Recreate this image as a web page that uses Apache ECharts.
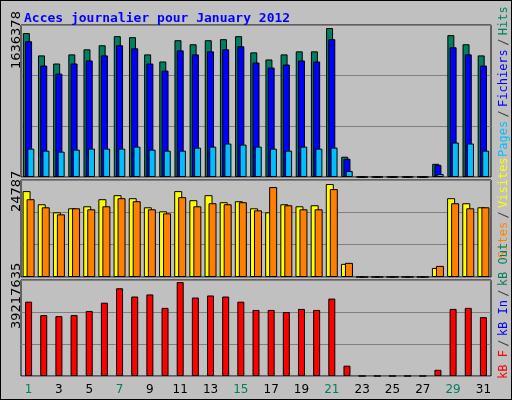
<!DOCTYPE html>
<html>
<head>
<meta charset="utf-8">
<script src="https://cdn.jsdelivr.net/npm/echarts@6/dist/echarts.min.js"></script>
<style>
  html, body { margin: 0; padding: 0; background: #fff; }
  #chart { width: 510px; height: 398px; border: 1px solid #000; background: #c0c0c0; }
</style>
</head>
<body>
<div id="chart"></div>
<script>
// days of January 2012, weekend days drawn in green
const days = Array.from({ length: 31 }, (_, i) => String(i + 1));
const weekendDays = ["1", "7", "8", "14", "15", "21", "22", "28", "29"];

// top panel (relative heights, max label 1636378)
const hits = [142, 120, 112, 121, 126, 130, 139, 138, 121, 114, 135, 131, 135, 136, 139, 123,
  116, 121, 124, 124, 147, 20, 0, 0, 0, 0, 0, 13, 140, 131, 120];
const files = [134, 110, 102, 112, 115, 120, 130, 127, 112, 105, 125, 121, 124, 126, 129, 113,
  108, 111, 115, 114, 136, 18, 0, 0, 0, 0, 0, 12, 128, 121, 110];
const pages = [28, 26, 25, 27, 28, 28, 28, 30, 27, 26, 26, 29, 30, 33, 32, 30,
  28, 26, 30, 28, 29, 6, 0, 0, 0, 0, 0, 3, 34, 33, 26];

// middle panel (max label 24787)
const visits = [85, 72, 64, 68, 70, 77, 81, 78, 69, 65, 85, 76, 81, 74, 75, 68,
  64, 72, 70, 71, 92, 13, 0, 0, 0, 0, 0, 9, 78, 73, 69];
const sites = [77, 69, 62, 68, 67, 70, 78, 75, 67, 63, 79, 70, 73, 72, 74, 66,
  89, 71, 67, 67, 87, 14, 0, 0, 0, 0, 0, 11, 73, 68, 69];

// bottom panel (max label 39217635)
const bandwidth = [72, 59, 58, 59, 63, 71, 85, 77, 79, 66, 91, 76, 78, 77, 72, 64,
  64, 62, 65, 64, 75, 10, 0, 0, 0, 0, 0, 6, 65, 66, 57];

const grids = [
  { left: 20, top: 24, width: 470, height: 152 },
  { left: 20, top: 179, width: 470, height: 97 },
  { left: 20, top: 279, width: 470, height: 96 }
];

const chart = echarts.init(document.getElementById("chart"));

function xAxis(gridIndex, showLabels) {
  return {
    type: "category", gridIndex, data: days,
    axisLine: { show: false }, axisTick: { show: false },
    axisLabel: showLabels ? {
      margin: 8, fontSize: 12, fontFamily: "DejaVu Sans",
      color: (v) => weekendDays.includes(v) ? "#008060" : "#000"
    } : { show: false }
  };
}

function yAxis(gridIndex, max, interval) {
  return {
    type: "value", gridIndex, min: 0, max, interval,
    axisLabel: { show: false }, axisLine: { show: false }, axisTick: { show: false },
    splitLine: { lineStyle: { color: "#808080", width: 1 } }
  };
}

function bars(name, data, color, axis, width, gap) {
  return {
    name, type: "bar", data, xAxisIndex: axis, yAxisIndex: axis,
    barWidth: width, barGap: gap, silent: true, animation: false,
    itemStyle: { color, borderColor: "#000", borderWidth: 1 }
  };
}

function vtext(x, y, rich, parts, font) {
  return {
    type: "text", x, y, rotation: Math.PI / 2,
    style: {
      text: parts, rich, align: "left", verticalAlign: "middle",
      font: font
    }
  };
}

const mono = "12px 'DejaVu Sans Mono'";
const rich = {
  pg: { fill: "#00bfff", font: mono }, fi: { fill: "#0000ff", font: mono },
  hi: { fill: "#008060", font: mono }, sl: { fill: "#404040", font: mono },
  si: { fill: "#ff8000", font: mono }, vi: { fill: "#ffff00", font: mono },
  kf: { fill: "#ff0000", font: mono }, ki: { fill: "#0000ff", font: mono },
  ko: { fill: "#008060", font: mono }
};

chart.setOption({
  backgroundColor: "#c0c0c0",
  title: {
    text: "Acces journalier pour January 2012", left: 18, top: 6,
    textStyle: { color: "#0000ff", fontFamily: "DejaVu Sans Mono", fontWeight: "bold", fontSize: 13 }
  },
  grid: grids.map(g => Object.assign({ show: true, borderColor: "#000", borderWidth: 1, backgroundColor: "#c0c0c0" }, g)),
  xAxis: [xAxis(0, false), xAxis(1, false), xAxis(2, true)],
  yAxis: [yAxis(0, 150, 50), yAxis(1, 96, 32), yAxis(2, 93, 31)],
  series: [
    bars("Hits", hits, "#008060", 0, 7, "-68%"),
    bars("Fichiers", files, "#0000ff", 0, 7, "-68%"),
    bars("Pages", pages, "#00bfff", 0, 7, "-68%"),
    bars("Visites", visits, "#ffff00", 1, 8, "-50%"),
    bars("Sites", sites, "#ff8000", 1, 8, "-50%"),
    bars("kB F", bandwidth, "#ff0000", 2, 7, "0%")
  ],
  graphic: [
    vtext(16, 68, {}, "1636378", "13px 'DejaVu Sans'"),
    vtext(16, 211, {}, "24787", "13px 'DejaVu Sans'"),
    vtext(16, 328, {}, "39217635", "13px 'DejaVu Sans'"),
    vtext(503, 156, rich, "{pg|Pages} {sl|/} {fi|Fichiers} {sl|/} {hi|Hits}"),
    vtext(503, 257, rich, "{si|Sites} {sl|/} {vi|Visites}"),
    vtext(503, 378, rich, "{kf|kB F} {sl|/} {ki|kB In} {sl|/} {ko|kB Out}")
  ]
});
</script>
</body>
</html>
